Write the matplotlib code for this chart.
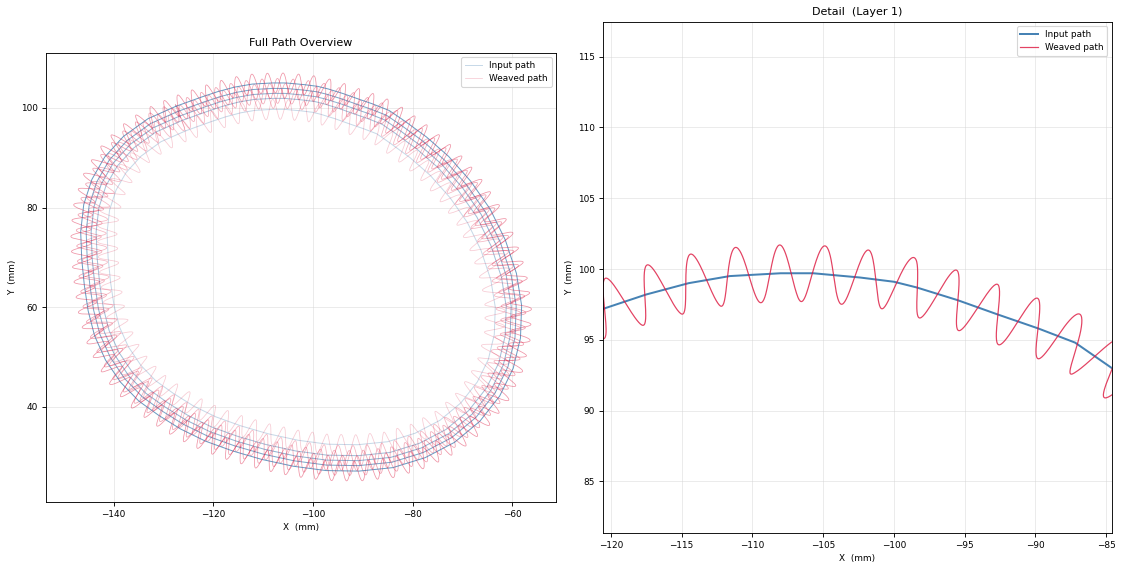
import numpy as np
import matplotlib.pyplot as plt

# layer 1 input path, vertices (clockwise, mm)
ring_x = [-125.5, -120.5, -117.5, -114.5, -111.6, -108.0, -105.7, -102.4, -100.0, -98.4,
          -95.5, -92.7, -89.8, -87.2, -84.6, -80.5, -76.5, -72.5, -69.0, -66.3,
          -64.3, -63.4, -63.6, -64.8, -67.0, -70.3, -74.5, -79.5, -85.0, -91.0,
          -97.0, -103.0, -109.0, -114.5, -119.5, -124.0, -128.0, -131.5, -134.5, -137.0,
          -138.8, -139.9, -140.6, -141.1, -141.3, -140.8, -139.5, -137.5, -134.5, -130.5]
ring_y = [95.4, 97.2, 98.2, 99.0, 99.5, 99.7, 99.7, 99.4, 99.1, 98.7,
          97.8, 96.8, 95.8, 94.8, 93.0, 90.0, 86.5, 82.0, 77.0, 71.5,
          65.5, 60.0, 54.5, 49.5, 45.0, 40.8, 37.3, 34.7, 33.0, 32.4,
          32.5, 33.3, 34.6, 36.2, 38.0, 40.2, 42.7, 45.2, 48.3, 52.0,
          56.0, 60.3, 65.0, 70.0, 75.0, 79.5, 83.5, 87.0, 90.3, 93.2]

# outward spacing of the printed layers from layer 1 (mm)
layer_offset = [0.0, 2.2, 3.2, 4.2, 5.3]
layer_phase = [0.0, 0.5, 0.2, 0.7, 0.35]
path_alpha = [0.3, 0.5, 0.6, 0.7, 0.8]
weave_alpha = [0.22, 0.3, 0.35, 0.4, 0.45]

# weave settings read from the detail view
weave_amp = 2.0
weave_pitch = 3.0
first_peak_x = -108.0


def offset_ring(x, y, d):
    x = np.asarray(x)
    y = np.asarray(y)
    dx = np.roll(x, -1) - np.roll(x, 1)
    dy = np.roll(y, -1) - np.roll(y, 1)
    n = np.hypot(dx, dy)
    return x - d * dy / n, y + d * dx / n


def dense(x, y, step=0.04):
    x = np.append(x, x[0])
    y = np.append(y, y[0])
    s = np.concatenate([[0], np.cumsum(np.hypot(np.diff(x), np.diff(y)))])
    t = np.arange(0, s[-1], step)
    return np.interp(t, s, x), np.interp(t, s, y), t


def smooth(a, w=60):
    k = np.ones(w) / w
    return np.convolve(np.concatenate([a[-w:], a, a[:w]]), k, mode='same')[w:-w]


def weave(x, y, phase=0.0):
    px, py, s = dense(x, y)
    tx = smooth(np.roll(px, -1) - np.roll(px, 1))
    ty = smooth(np.roll(py, -1) - np.roll(py, 1))
    n = np.hypot(tx, ty)
    nx, ny = -ty / n, tx / n
    top = np.where(py > 90)[0]
    k = top[np.argmin(np.abs(px[top] - first_peak_x))]
    v = weave_amp * np.cos(2 * np.pi * ((s - s[k]) / weave_pitch + phase))
    wx = np.append(px + v * nx, px[0] + v[0] * nx[0])
    wy = np.append(py + v * ny, py[0] + v[0] * ny[0])
    return wx, wy


fig = plt.figure(figsize=(14.0125, 7.0375), dpi=80)
ax1 = fig.add_axes([0.0401, 0.1083, 0.4567, 0.7975])
ax2 = fig.add_axes([0.5361, 0.0533, 0.4576, 0.9076])

for i, d in enumerate(layer_offset):
    lx, ly = offset_ring(ring_x, ring_y, d)
    wx, wy = weave(lx, ly, layer_phase[i])
    ax1.plot(np.append(lx, lx[0]), np.append(ly, ly[0]), color='steelblue', lw=0.9,
             alpha=path_alpha[i], label='Input path' if i == 0 else None)
    ax1.plot(wx, wy, color='crimson', lw=0.7, alpha=weave_alpha[i],
             label='Weaved path' if i == 0 else None)

wx, wy = weave(ring_x, ring_y)
ax2.plot(ring_x, ring_y, color='steelblue', lw=1.8, label='Input path')
ax2.plot(wx, wy, color='crimson', lw=1.1, alpha=0.8, label='Weaved path')

ax1.set_xlim(-153.6, -51.2)
ax1.set_ylim(20.9, 111.0)
ax2.set_xlim(-120.55, -84.6)
ax2.set_ylim(81.35, 117.45)

ax1.set_title('Full Path Overview', fontsize=10)
ax2.set_title('Detail  (Layer 1)', fontsize=10)
for ax in (ax1, ax2):
    ax.set_aspect('equal')
    ax.set_xlabel('X  (mm)', fontsize=8)
    ax.set_ylabel('Y  (mm)', fontsize=8)
    ax.tick_params(labelsize=8)
    ax.grid(True, color='lightgray', alpha=0.5, lw=0.8)
    ax.legend(loc='upper right', fontsize=8)

fig.savefig('out.png', dpi=80)
